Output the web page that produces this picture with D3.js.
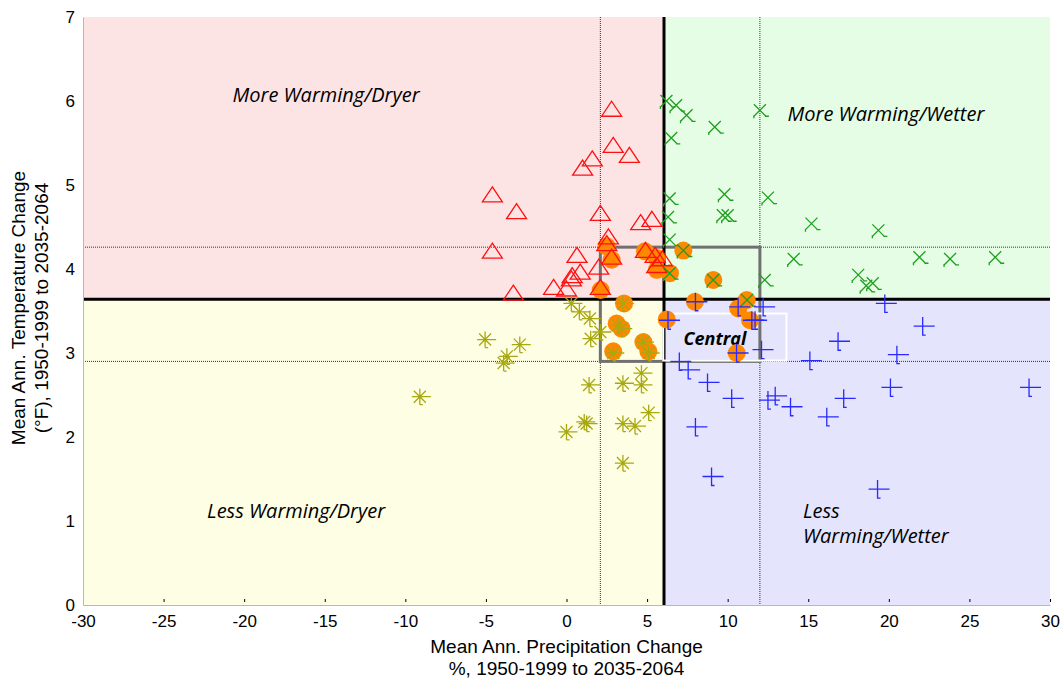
<!DOCTYPE html>
<html>
<head>
<meta charset="utf-8">
<script src="https://cdn.jsdelivr.net/npm/d3@7"></script>
<style>
  body { margin: 0; background: #fff; }
  svg { display: block; }
</style>
</head>
<body>
<svg class="chart"></svg>
<script>
let width = 1062
let height = 684

let margin = { left: 83, right: 12, top: 17, bottom: 79 }

let sansFont = "'Liberation Sans', Arial, sans-serif"
let labelFont = "'Open Sans', Lato, sans-serif"

let xTicks = [-30, -25, -20, -15, -10, -5, 0, 5, 10, 15, 20, 25, 30]
let yTicks = [0, 1, 2, 3, 4, 5, 6, 7]

// thresholds: median split and outer bounds of the central group
let precipMid = 6.05
let tempMid = 3.64
let precipBounds = [2.1, 12]
let tempBounds = [2.9, 4.26]

// more warming / dryer (triangles)
let warmDry = [[2.8, 5.89], [2.9, 5.46], [3.9, 5.34], [1.6, 5.3], [1.0, 5.19], [-4.6, 4.87], [-3.1, 4.67],
  [2.1, 4.65], [4.6, 4.54], [5.3, 4.58], [-4.6, 4.2], [2.6, 4.37], [2.5, 4.29], [0.65, 4.15], [2.8, 4.13],
  [2.0, 4.01], [0.85, 3.95], [0.35, 3.91], [0.3, 3.87], [0.0, 3.75], [-0.8, 3.77], [-3.3, 3.7], [2.1, 3.77],
  [4.9, 4.21], [5.5, 4.15], [5.95, 4.11], [5.6, 4.03]]

// more warming / wetter (x)
let warmWet = [[6.2, 6.0], [6.8, 5.95], [7.45, 5.83], [9.2, 5.69], [6.5, 5.56], [12.0, 5.89], [9.8, 4.89],
  [6.4, 4.84], [12.5, 4.85], [9.7, 4.64], [10.0, 4.64], [6.3, 4.62], [15.2, 4.54], [19.35, 4.46], [6.4, 4.35],
  [7.25, 4.22], [14.1, 4.12], [21.9, 4.14], [23.8, 4.12], [26.6, 4.14], [6.4, 3.95], [9.1, 3.87], [12.3, 3.87],
  [18.1, 3.93], [18.6, 3.8], [19.0, 3.83], [11.2, 3.63]]

// less warming / dryer (asterisks)
let lessDry = [[0.3, 3.59], [0.8, 3.49], [1.45, 3.41], [2.1, 3.25], [1.5, 3.17], [-5.05, 3.16], [-2.9, 3.1],
  [-3.7, 2.96], [-3.9, 2.88], [-9.1, 2.48], [1.4, 2.62], [3.5, 2.64], [4.65, 2.76], [4.65, 2.62], [5.1, 2.29],
  [1.25, 2.16], [1.1, 2.18], [0.0, 2.06], [3.5, 2.16], [4.25, 2.13], [3.5, 1.69], [3.2, 3.33], [3.4, 3.29],
  [2.9, 3.0], [4.75, 3.13], [5.1, 3.0], [3.5, 3.59]]

// less warming / wetter (plus)
let lessWet = [[8.0, 3.61], [10.65, 3.55], [12.2, 3.55], [11.5, 3.39], [11.7, 3.39], [6.3, 3.39], [19.75, 3.59],
  [22.1, 3.32], [16.85, 3.14], [10.55, 3.0], [12.1, 3.04], [15.1, 2.91], [20.5, 2.98], [7.0, 2.9], [7.55, 2.8],
  [8.75, 2.65], [10.25, 2.46], [12.5, 2.44], [12.95, 2.49], [13.9, 2.36], [16.15, 2.24], [17.2, 2.46],
  [20.1, 2.59], [28.7, 2.59], [8.0, 2.12], [9.0, 1.53], [19.3, 1.38]]

// models picked for the central group (orange dots)
let central = [[2.49, 4.27], [2.8, 4.11], [2.12, 3.75], [4.87, 4.21], [5.6, 4.13], [5.6, 3.99], [6.42, 3.95],
  [7.25, 4.22], [9.11, 3.87], [3.57, 3.59], [7.97, 3.61], [6.22, 3.4], [11.18, 3.63], [10.66, 3.53],
  [11.39, 3.39], [3.11, 3.35], [3.42, 3.29], [4.77, 3.13], [5.08, 3.02], [2.9, 3.02], [10.56, 3.0]]

let quadrants = [
  { x0: -30, x1: precipMid, y0: tempMid, y1: 7, fill: "#fde4e4" },
  { x0: precipMid, x1: 30, y0: tempMid, y1: 7, fill: "#e4fde4" },
  { x0: -30, x1: precipMid, y0: 0, y1: tempMid, fill: "#fefee4" },
  { x0: precipMid, x1: 30, y0: 0, y1: tempMid, fill: "#e4e4fc" }
]

let quadLabels = [
  { text: "More Warming/Dryer", x: -14.92, y: 5.99, anchor: "middle" },
  { text: "More Warming/Wetter", x: 19.82, y: 5.76, anchor: "middle" },
  { text: "Less Warming/Dryer", x: -16.78, y: 1.036, anchor: "middle" },
  { text: "Less", x: 14.67, y: 1.036, anchor: "start" },
  { text: "Warming/Wetter", x: 14.67, y: 0.738, anchor: "start" }
]

let svg = d3.select(".chart")
  .attr("width", width)
  .attr("height", height)

let x = d3.scaleLinear()
  .domain([-30, 30])
  .range([margin.left, width - margin.right])

let y = d3.scaleLinear()
  .domain([0, 7])
  .range([height - margin.bottom, margin.top])

svg.selectAll("rect.quad")
  .data(quadrants)
  .enter().append("rect")
  .classed("quad", true)
  .attr("x", d => x(d.x0))
  .attr("y", d => y(d.y1))
  .attr("width", d => x(d.x1) - x(d.x0))
  .attr("height", d => y(d.y0) - y(d.y1))
  .attr("fill", d => d.fill)

// dotted bounds
svg.selectAll("line.vb")
  .data(precipBounds)
  .enter().append("line")
  .attr("x1", d => x(d)).attr("x2", d => x(d))
  .attr("y1", y(7)).attr("y2", y(0))
  .attr("stroke", "#333").attr("stroke-width", 1).attr("stroke-dasharray", "1,1")

svg.selectAll("line.hb")
  .data(tempBounds)
  .enter().append("line")
  .attr("x1", x(-30)).attr("x2", x(30))
  .attr("y1", d => y(d)).attr("y2", d => y(d))
  .attr("stroke", "#333").attr("stroke-width", 1).attr("stroke-dasharray", "1,1")

// central box
svg.append("rect")
  .attr("x", x(precipBounds[0]))
  .attr("y", y(tempBounds[1]))
  .attr("width", x(precipBounds[1]) - x(precipBounds[0]))
  .attr("height", y(tempBounds[0]) - y(tempBounds[1]))
  .attr("fill", "none")
  .attr("stroke", "#707070")
  .attr("stroke-width", 3)

// median lines
svg.append("line")
  .attr("x1", x(precipMid)).attr("x2", x(precipMid))
  .attr("y1", y(7)).attr("y2", y(0))
  .attr("stroke", "#000").attr("stroke-width", 3)
svg.append("line")
  .attr("x1", x(-30)).attr("x2", x(30))
  .attr("y1", y(tempMid)).attr("y2", y(tempMid))
  .attr("stroke", "#000").attr("stroke-width", 3)

// "Central" label box
svg.append("rect")
  .attr("x", x(6.0)).attr("y", y(3.47))
  .attr("width", x(13.65) - x(6.0))
  .attr("height", y(2.91) - y(3.47))
  .attr("fill", "none")
  .attr("stroke", "#fff")
  .attr("stroke-width", 2)
svg.append("text")
  .attr("x", x(9.21)).attr("y", y(3.095))
  .attr("text-anchor", "middle")
  .attr("font-family", labelFont)
  .attr("font-style", "italic")
  .attr("font-weight", "bold")
  .attr("font-size", 18)
  .text("Central")

svg.selectAll("text.ql")
  .data(quadLabels)
  .enter().append("text")
  .attr("font-family", labelFont)
  .attr("font-style", "italic")
  .attr("font-size", 20)
  .attr("x", d => x(d.x))
  .attr("y", d => y(d.y))
  .attr("text-anchor", d => d.anchor)
  .text(d => d.text)

// orange highlight dots
svg.selectAll("circle.central")
  .data(central)
  .enter().append("circle")
  .attr("cx", d => x(d[0]))
  .attr("cy", d => y(d[1]))
  .attr("r", 9)
  .attr("fill", "#ff8800")

// markers
let tri = svg.append("g")
tri.selectAll("path")
  .data(warmDry)
  .enter().append("path")
  .attr("d", d => {
    let cx = x(d[0]), cy = y(d[1])
    return `M${cx},${cy - 9}L${cx + 10},${cy + 6}L${cx - 10},${cy + 6}Z`
  })
  .attr("fill", "none")
  .attr("stroke", "#ff1010")
  .attr("stroke-width", 1.3)

let xs = svg.append("g")
xs.selectAll("path")
  .data(warmWet)
  .enter().append("path")
  .attr("d", d => {
    let cx = x(d[0]), cy = y(d[1])
    return `M${cx - 6},${cy - 6}L${cx + 6},${cy + 6}M${cx + 6},${cy - 6}L${cx - 6},${cy + 6}` +
      `M${cx + 5},${cy + 6}L${cx + 9},${cy + 6}M${cx - 6},${cy + 5}L${cx - 6},${cy + 8}`
  })
  .attr("fill", "none")
  .attr("stroke", "#1f9f1f")
  .attr("stroke-width", 1.3)

let stars = svg.append("g")
stars.selectAll("path")
  .data(lessDry)
  .enter().append("path")
  .attr("d", d => {
    let cx = x(d[0]), cy = y(d[1])
    return `M${cx - 8},${cy}L${cx + 8},${cy}M${cx},${cy - 8}L${cx},${cy + 8}` +
      `M${cx - 6},${cy - 6}L${cx + 6},${cy + 6}M${cx + 6},${cy - 6}L${cx - 6},${cy + 6}` +
      `M${cx + 8},${cy}L${cx + 11},${cy}M${cx},${cy + 8}L${cx + 3},${cy + 8}`
  })
  .attr("fill", "none")
  .attr("stroke", "#a8a810")
  .attr("stroke-width", 1.3)

let plus = svg.append("g")
plus.selectAll("path")
  .data(lessWet)
  .enter().append("path")
  .attr("d", d => {
    let cx = x(d[0]), cy = y(d[1])
    return `M${cx - 9},${cy}L${cx + 9},${cy}M${cx},${cy - 9}L${cx},${cy + 9}L${cx + 3},${cy + 9}` +
      `M${cx + 9},${cy}L${cx + 12},${cy}`
  })
  .attr("fill", "none")
  .attr("stroke", "#2a2aff")
  .attr("stroke-width", 1.3)

// axes
let fmt = d => String(d)

let xAxis = svg.append("g")
  .attr("transform", `translate(0,${y(0)})`)
  .call(d3.axisBottom(x).tickValues(xTicks).tickFormat(fmt).tickSize(3).tickSizeOuter(0).tickPadding(7))
xAxis.attr("font-family", sansFont).attr("font-size", 17)
xAxis.select(".domain").attr("stroke", "#b8b8b8")
xAxis.selectAll(".tick line").attr("stroke", "#000").attr("transform", "translate(0,-6)")
xAxis.selectAll(".tick text").attr("fill", "#000")

let yAxis = svg.append("g")
  .attr("transform", `translate(${x(-30)},0)`)
  .call(d3.axisLeft(y).tickValues(yTicks).tickFormat(fmt).tickSize(0).tickPadding(8))
yAxis.attr("font-family", sansFont).attr("font-size", 17)
yAxis.select(".domain").attr("stroke", "#b8b8b8")
yAxis.selectAll(".tick text").attr("fill", "#000")

let titles = [
  { text: "Mean Ann. Precipitation Change", tx: x(0), ty: 653, rot: 0 },
  { text: "%, 1950-1999 to 2035-2064", tx: x(0), ty: 675, rot: 0 },
  { text: "Mean Ann. Temperature Change", tx: 25, ty: 308, rot: -90 },
  { text: "(°F), 1950-1999 to 2035-2064", tx: 48, ty: 308, rot: -90 }
]

svg.selectAll("text.title")
  .data(titles)
  .enter().append("text")
  .attr("transform", d => `translate(${d.tx},${d.ty}) rotate(${d.rot})`)
  .attr("text-anchor", "middle")
  .attr("font-family", sansFont)
  .attr("font-size", 19)
  .attr("fill", "#000")
  .text(d => d.text)
</script>
</body>
</html>
